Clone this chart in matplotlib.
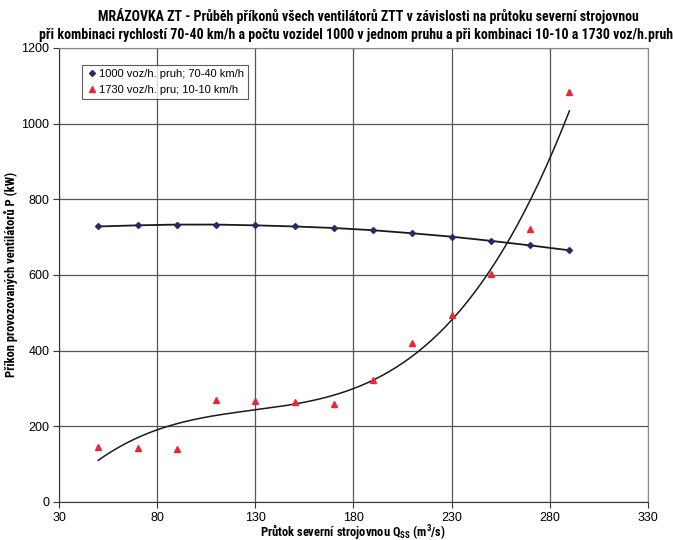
import numpy as np
import matplotlib
matplotlib.use("Agg")
import matplotlib.pyplot as plt

plt.rcParams['font.family'] = ['Liberation Sans', 'DejaVu Sans']
NARROW = ['Roboto Condensed', 'Barlow Semi Condensed', 'Asap Condensed', 'Liberation Sans', 'DejaVu Sans']

x_flow = [50, 70, 90, 110, 130, 150, 170, 190, 210, 230, 250, 270, 290]
p_1000 = [728, 731, 733, 733, 731, 728, 724, 718, 710, 701, 690, 678, 665]
p_1730 = [145, 143, 141, 270, 268, 263, 258, 322, 420, 495, 603, 722, 1083]
x_ticks = [30, 80, 130, 180, 230, 280, 330]
y_ticks = [0, 200, 400, 600, 800, 1000, 1200]
label_1000 = '1000 voz/h. pruh; 70-40 km/h'
label_1730 = '1730 voz/h. pru; 10-10 km/h'
title_1 = 'MRÁZOVKA ZT - Průběh příkonů všech ventilátorů ZTT v závislosti na průtoku severní strojovnou'
title_2 = 'při kombinaci rychlostí 70-40 km/h a počtu vozidel 1000 v jednom pruhu a při kombinaci 10-10 a 1730 voz/h.pruh'

fig = plt.figure(figsize=(6.73, 5.40), dpi=100)
ax = fig.add_axes([0.0877, 0.0704, 0.875, 0.841])

ax.set_xlim(30, 330)
ax.set_ylim(0, 1200)
ax.set_xticks(x_ticks)
ax.set_yticks(y_ticks)
ax.grid(True, color='#555555', linewidth=0.9)
ax.set_axisbelow(True)
for s in ['top', 'right']:
    ax.spines[s].set_color('#888888')
for s in ['left', 'bottom']:
    ax.spines[s].set_color('#333333')
ax.tick_params(labelsize=9, length=4, color='#333333', pad=3)

ax.plot(x_flow, p_1000, color='#1a1a1a', linewidth=1.3, zorder=3)
ax.plot(x_flow, p_1000, linestyle='none', marker='D', markersize=3,
        color='#1f2d6b', label=label_1000, zorder=4)
ax.plot(x_flow, p_1730, linestyle='none', marker='^', markersize=4.5,
        color='#e8283a', label=label_1730, zorder=4)
coef = np.polyfit(x_flow, p_1730, 3)
xx = np.linspace(min(x_flow), max(x_flow), 200)
ax.plot(xx, np.polyval(coef, xx), color='#1a1a1a', linewidth=1.1, zorder=3)

leg = ax.legend(loc='upper left', bbox_to_anchor=(0.03, 0.975), fontsize=8,
                frameon=True, fancybox=False, edgecolor='#333333',
                handletextpad=0.1, handlelength=1.0, borderpad=0.4,
                labelspacing=0.5)
leg.get_frame().set_linewidth(0.8)

ax.set_xlabel('Průtok severní strojovnou Q$_\\mathregular{SS}$ (m$^\\mathregular{3}$/s)',
              fontsize=9, fontweight='bold', family=NARROW)
ax.set_ylabel('Příkon provozovaných ventilátorů P (kW)', fontsize=9,
              fontweight='bold', family=NARROW)
ax.xaxis.set_label_coords(0.5, -0.045)
ax.yaxis.set_label_coords(-0.07, 0.5)

fig.text(368 / 673, 0.985, title_1, ha='center', va='top', fontsize=10,
         fontweight='bold', family=NARROW)
fig.text(356 / 673, 0.948, title_2, ha='center', va='top', fontsize=10,
         fontweight='bold', family=NARROW)

fig.savefig('out.png', dpi=100)
